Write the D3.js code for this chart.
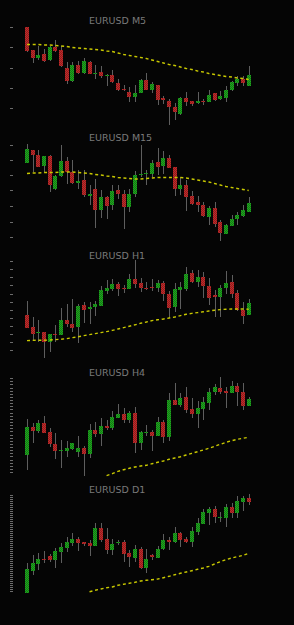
<!DOCTYPE html>
<html><head><meta charset="utf-8">
<script src="https://cdn.jsdelivr.net/npm/d3@7"></script>
<style>html,body{margin:0;padding:0;background:#050505;overflow:hidden}svg{display:block}</style>
</head><body>
<svg id="c" width="294" height="625"></svg>
<script>
const titles = ["EURUSD M5","EURUSD M15","EURUSD H1","EURUSD H4","EURUSD D1"];

const m5Open  = [1.08946,1.08900,1.08883,1.08891,1.08880,1.08906,1.08900,1.08865,1.08837,1.08870,1.08855,1.08875,1.08852,1.08856,1.08848,1.08849,1.08833,1.08822,1.08816,1.08805,1.08813,1.08839,1.08819,1.08829,1.08803,1.08797,1.08786,1.08771,1.08803,1.08797,1.08793,1.08798,1.08796,1.08813,1.08801,1.08803,1.08819,1.08834,1.08842,1.08828];
const m5High  = [1.08946,1.08900,1.08907,1.08901,1.08908,1.08919,1.08909,1.08875,1.08875,1.08877,1.08883,1.08877,1.08870,1.08867,1.08852,1.08859,1.08842,1.08830,1.08825,1.08830,1.08842,1.08855,1.08836,1.08829,1.08807,1.08801,1.08793,1.08806,1.08815,1.08797,1.08815,1.08802,1.08820,1.08813,1.08818,1.08828,1.08837,1.08847,1.08847,1.08867];
const m5Low   = [1.08896,1.08873,1.08880,1.08875,1.08877,1.08895,1.08866,1.08831,1.08836,1.08852,1.08852,1.08851,1.08841,1.08843,1.08827,1.08833,1.08818,1.08817,1.08795,1.08795,1.08813,1.08819,1.08813,1.08790,1.08792,1.08750,1.08759,1.08770,1.08788,1.08788,1.08792,1.08789,1.08795,1.08797,1.08800,1.08795,1.08818,1.08828,1.08828,1.08827];
const m5Close = [1.08897,1.08883,1.08890,1.08877,1.08905,1.08897,1.08867,1.08837,1.08869,1.08853,1.08877,1.08852,1.08855,1.08848,1.08850,1.08835,1.08820,1.08819,1.08805,1.08813,1.08840,1.08819,1.08831,1.08800,1.08799,1.08785,1.08775,1.08804,1.08795,1.08792,1.08798,1.08795,1.08811,1.08800,1.08807,1.08820,1.08836,1.08841,1.08833,1.08850];
const m5Ma    = [1.08911,1.08911,1.08911,1.08910,1.08910,1.08909,1.08908,1.08907,1.08905,1.08904,1.08903,1.08902,1.08901,1.08900,1.08898,1.08897,1.08894,1.08891,1.08889,1.08887,1.08885,1.08883,1.08880,1.08877,1.08874,1.08871,1.08869,1.08866,1.08863,1.08861,1.08858,1.08856,1.08853,1.08851,1.08849,1.08847,1.08846,1.08844,1.08843,1.08841];
const m5Ticks = [1.08945,1.08905,1.08865,1.08824,1.08783];
const m5Range = [1.08740,1.08960];

const m15Open  = [1.09173,1.09201,1.09191,1.09169,1.09188,1.09122,1.09148,1.09178,1.09157,1.09135,1.09140,1.09108,1.09123,1.09081,1.09107,1.09090,1.09119,1.09113,1.09085,1.09113,1.09150,1.09153,1.09152,1.09177,1.09169,1.09185,1.09167,1.09123,1.09129,1.09109,1.09096,1.09091,1.09067,1.09084,1.09056,1.09033,1.09048,1.09063,1.09068,1.09077];
const m15High  = [1.09213,1.09201,1.09200,1.09188,1.09191,1.09149,1.09210,1.09186,1.09180,1.09160,1.09160,1.09130,1.09142,1.09120,1.09109,1.09131,1.09130,1.09121,1.09123,1.09158,1.09210,1.09159,1.09180,1.09205,1.09198,1.09191,1.09167,1.09147,1.09140,1.09118,1.09108,1.09097,1.09088,1.09097,1.09060,1.09051,1.09070,1.09075,1.09090,1.09107];
const m15Low   = [1.09173,1.09157,1.09166,1.09157,1.09115,1.09121,1.09147,1.09133,1.09133,1.09123,1.09105,1.09090,1.09045,1.09065,1.09063,1.09081,1.09102,1.09043,1.09077,1.09105,1.09147,1.09130,1.09147,1.09150,1.09152,1.09163,1.09109,1.09110,1.09078,1.09090,1.09075,1.09067,1.09050,1.09047,1.09017,1.09032,1.09048,1.09050,1.09067,1.09077];
const m15Close = [1.09202,1.09191,1.09167,1.09188,1.09131,1.09148,1.09178,1.09157,1.09135,1.09138,1.09110,1.09113,1.09080,1.09107,1.09089,1.09118,1.09112,1.09086,1.09113,1.09150,1.09153,1.09154,1.09175,1.09167,1.09183,1.09164,1.09122,1.09129,1.09105,1.09093,1.09090,1.09068,1.09084,1.09053,1.09035,1.09050,1.09063,1.09070,1.09081,1.09094];
const m15Ma    = [1.09153,1.09154,1.09154,1.09155,1.09155,1.09155,1.09156,1.09156,1.09156,1.09155,1.09154,1.09153,1.09151,1.09150,1.09148,1.09147,1.09145,1.09144,1.09143,1.09142,1.09142,1.09143,1.09144,1.09145,1.09145,1.09145,1.09145,1.09145,1.09144,1.09142,1.09140,1.09138,1.09136,1.09133,1.09130,1.09127,1.09125,1.09123,1.09121,1.09119];
const m15Ticks = [1.09211,1.09181,1.09150,1.09119,1.09088,1.09057,1.09026];
const m15Range = [1.09010,1.09230];

const h1Open  = [1.08425,1.08364,1.08335,1.08339,1.08289,1.08330,1.08325,1.08400,1.08382,1.08364,1.08474,1.08454,1.08467,1.08472,1.08547,1.08555,1.08582,1.08562,1.08554,1.08604,1.08584,1.08562,1.08567,1.08562,1.08585,1.08530,1.08464,1.08550,1.08557,1.08635,1.08590,1.08615,1.08570,1.08525,1.08517,1.08559,1.08590,1.08534,1.08450,1.08424];
const h1High  = [1.08495,1.08417,1.08400,1.08339,1.08330,1.08375,1.08462,1.08480,1.08505,1.08479,1.08492,1.08492,1.08495,1.08570,1.08600,1.08605,1.08592,1.08575,1.08629,1.08700,1.08609,1.08592,1.08605,1.08600,1.08595,1.08545,1.08587,1.08589,1.08664,1.08650,1.08650,1.08642,1.08612,1.08550,1.08575,1.08645,1.08625,1.08550,1.08492,1.08504];
const h1Low   = [1.08361,1.08300,1.08292,1.08209,1.08242,1.08289,1.08324,1.08367,1.08342,1.08284,1.08384,1.08380,1.08422,1.08470,1.08529,1.08547,1.08522,1.08534,1.08553,1.08562,1.08542,1.08550,1.08547,1.08542,1.08495,1.08412,1.08442,1.08455,1.08545,1.08585,1.08567,1.08512,1.08475,1.08417,1.08417,1.08530,1.08509,1.08447,1.08380,1.08423];
const h1Close = [1.08362,1.08329,1.08340,1.08289,1.08330,1.08325,1.08400,1.08379,1.08362,1.08472,1.08452,1.08467,1.08480,1.08550,1.08560,1.08582,1.08557,1.08555,1.08604,1.08579,1.08559,1.08559,1.08560,1.08587,1.08530,1.08462,1.08554,1.08567,1.08630,1.08590,1.08615,1.08572,1.08509,1.08514,1.08562,1.08587,1.08530,1.08450,1.08422,1.08485];
const h1Ma    = [1.08297,1.08298,1.08299,1.08299,1.08300,1.08302,1.08304,1.08307,1.08312,1.08316,1.08322,1.08327,1.08332,1.08337,1.08342,1.08348,1.08355,1.08362,1.08369,1.08376,1.08384,1.08390,1.08397,1.08401,1.08405,1.08410,1.08415,1.08422,1.08429,1.08433,1.08437,1.08441,1.08445,1.08449,1.08452,1.08454,1.08455,1.08455,1.08455,1.08454];
const h1Ticks = [1.08695,1.08654,1.08614,1.08573,1.08532,1.08492,1.08451,1.08410,1.08370,1.08329,1.08289,1.08248];
const h1Range = [1.08175,1.08725];

const h4Open  = [1.07450,1.07733,1.07690,1.07773,1.07683,1.07560,1.07493,1.07493,1.07513,1.07480,1.07523,1.07457,1.07700,1.07660,1.07743,1.07717,1.07823,1.07857,1.07800,1.07867,1.07567,1.07673,1.07680,1.07640,1.07780,1.07627,1.08000,1.07950,1.08027,1.07907,1.07857,1.07910,1.07973,1.08077,1.08123,1.08090,1.08067,1.08140,1.08083,1.07943];
const h4High  = [1.07807,1.07767,1.07800,1.07840,1.07723,1.07667,1.07600,1.07590,1.07570,1.07640,1.07540,1.07757,1.07783,1.07817,1.07800,1.07893,1.07957,1.07923,1.07893,1.07933,1.07690,1.07750,1.07700,1.07833,1.07800,1.08067,1.08173,1.08073,1.08133,1.08023,1.07990,1.08033,1.08117,1.08160,1.08227,1.08127,1.08190,1.08173,1.08173,1.08033];
const h4Low   = [1.07300,1.07567,1.07673,1.07670,1.07533,1.07410,1.07317,1.07427,1.07500,1.07433,1.07240,1.07423,1.07633,1.07540,1.07700,1.07700,1.07820,1.07767,1.07767,1.07467,1.07500,1.07640,1.07493,1.07637,1.07567,1.07593,1.07947,1.07933,1.07867,1.07817,1.07723,1.07800,1.07900,1.08050,1.08060,1.07923,1.08067,1.07940,1.07900,1.07943];
const h4Close = [1.07733,1.07690,1.07773,1.07673,1.07560,1.07490,1.07500,1.07523,1.07567,1.07523,1.07457,1.07700,1.07660,1.07740,1.07717,1.07827,1.07857,1.07800,1.07867,1.07567,1.07677,1.07680,1.07640,1.07780,1.07627,1.08000,1.07950,1.08017,1.07897,1.07857,1.07917,1.07977,1.08080,1.08127,1.08083,1.08067,1.08140,1.08077,1.07943,1.08010];
const h4Ma    = [null,null,null,null,null,null,null,null,null,null,null,null,null,null,1.07243,1.07263,1.07287,1.07303,1.07317,1.07330,1.07340,1.07347,1.07363,1.07377,1.07390,1.07407,1.07420,1.07433,1.07450,1.07467,1.07483,1.07500,1.07517,1.07537,1.07557,1.07577,1.07593,1.07607,1.07617,1.07627];
const h4Ticks = [1.08217,1.08186,1.08155,1.08123,1.08092,1.08061,1.08030,1.07998,1.07967,1.07936,1.07905,1.07873,1.07842,1.07811,1.07780,1.07748,1.07717,1.07686,1.07655,1.07624,1.07592,1.07561,1.07530,1.07499,1.07467,1.07436,1.07405,1.07374,1.07343,1.07311,1.07280];
const h4Range = [1.07200,1.08300];

const d1Open  = [1.08146,1.08586,1.08720,1.08820,1.08880,1.08800,1.08966,1.09046,1.09146,1.09220,1.09166,1.09146,1.09080,1.09440,1.09220,1.09000,1.09146,1.09160,1.08934,1.08834,1.09020,1.08634,1.08900,1.08846,1.09014,1.09200,1.09154,1.09346,1.09214,1.09166,1.09366,1.09514,1.09746,1.09826,1.09634,1.09646,1.09866,1.09740,1.09960,1.10046];
const d1High  = [1.08734,1.08900,1.08946,1.08986,1.08920,1.09034,1.09134,1.09254,1.09346,1.09266,1.09166,1.09200,1.09546,1.09546,1.09434,1.09214,1.09200,1.09200,1.09000,1.09100,1.09066,1.09020,1.08920,1.09080,1.09320,1.09266,1.09466,1.09366,1.09266,1.09466,1.09634,1.09814,1.09866,1.09880,1.09754,1.09914,1.09946,1.10080,1.10080,1.10120];
const d1Low   = [1.08140,1.08500,1.08600,1.08746,1.08766,1.08646,1.08746,1.08966,1.09080,1.08980,1.09086,1.08880,1.09080,1.09166,1.08920,1.08900,1.09100,1.08766,1.08654,1.08766,1.08620,1.08546,1.08800,1.08846,1.09000,1.09000,1.09134,1.09066,1.09134,1.09066,1.09300,1.09514,1.09500,1.09534,1.09566,1.09466,1.09634,1.09634,1.09786,1.09894];
const d1Close = [1.08614,1.08734,1.08814,1.08806,1.08800,1.08980,1.09066,1.09160,1.09220,1.09146,1.09120,1.09080,1.09434,1.09194,1.09000,1.09114,1.09160,1.08920,1.08854,1.09014,1.08634,1.08820,1.08854,1.09026,1.09200,1.09160,1.09334,1.09200,1.09166,1.09386,1.09546,1.09766,1.09826,1.09660,1.09666,1.09866,1.09734,1.09974,1.10046,1.09954];
const d1Ma    = [null,null,null,null,null,null,null,null,null,null,null,1.08166,1.08194,1.08220,1.08246,1.08260,1.08294,1.08314,1.08334,1.08354,1.08380,1.08394,1.08406,1.08420,1.08446,1.08474,1.08506,1.08534,1.08560,1.08586,1.08614,1.08640,1.08674,1.08720,1.08766,1.08806,1.08840,1.08866,1.08894,1.08934];
const d1Ticks = [1.1010,1.1006,1.1002,1.0998,1.0994,1.0990,1.0986,1.0982,1.0978,1.0974,1.0970,1.0966,1.0962,1.0958,1.0954,1.0950,1.0946,1.0942,1.0938,1.0934,1.0930,1.0926,1.0922,1.0918,1.0914,1.0910,1.0906,1.0902,1.0898,1.0894,1.0890,1.0886,1.0882,1.0878,1.0874,1.0870,1.0866,1.0862,1.0858,1.0854,1.0850,1.0846,1.0842,1.0838,1.0834,1.0830,1.0826,1.0822,1.0818];
const d1Range = [1.08000,1.10200];

// ---- build panels ----
const series = [
  {o:m5Open,h:m5High,l:m5Low,c:m5Close,ma:m5Ma,ticks:m5Ticks,range:m5Range},
  {o:m15Open,h:m15High,l:m15Low,c:m15Close,ma:m15Ma,ticks:m15Ticks,range:m15Range},
  {o:h1Open,h:h1High,l:h1Low,c:h1Close,ma:h1Ma,ticks:h1Ticks,range:h1Range},
  {o:h4Open,h:h4High,l:h4Low,c:h4Close,ma:h4Ma,ticks:h4Ticks,range:h4Range},
  {o:d1Open,h:d1High,l:d1Low,c:d1Close,ma:d1Ma,ticks:d1Ticks,range:d1Range}
];
// pixel layout for each panel: [bottom, top] of price scale, title baseline
const layout = [
  {py:[130,20], ty:23.5},
  {py:[245,135], ty:141},
  {py:[365,255], ty:258.5},
  {py:[480,370], ty:375.8},
  {py:[600,490], ty:493}
];

const svg = d3.select("#c");
svg.append("rect").attr("width",294).attr("height",625).attr("fill","#050505");
const defs = svg.append("defs");
function pattern(id,a,b){
  const p = defs.append("pattern").attr("id",id).attr("width",2).attr("height",2).attr("patternUnits","userSpaceOnUse");
  p.append("rect").attr("width",2).attr("height",2).attr("fill",a);
  p.append("rect").attr("width",1).attr("height",1).attr("fill",b);
  p.append("rect").attr("x",1).attr("y",1).attr("width",1).attr("height",1).attr("fill",b);
}
pattern("pRed","#bf2a2a","#8f1d1d");
pattern("pGreen","#1fa31f","#137a13");

const N = 40;
const x = d3.scaleLinear().domain([0,N-1]).range([27,248.7]);

series.forEach((s,k)=>{
  const L = layout[k];
  const y = d3.scaleLinear().domain(s.range).range(L.py);
  const g = svg.append("g").attr("shape-rendering","crispEdges");

  // left tick ladder
  g.selectAll("rect.tk").data(s.ticks).join("rect").attr("class","tk")
    .attr("x",10).attr("width",3).attr("y",d=>Math.round(y(d))).attr("height",1).attr("fill","#6c6c6c");

  // title
  svg.append("text").attr("x",89).attr("y",L.ty).text(titles[k])
    .attr("font-family","DejaVu Sans, Verdana, sans-serif").attr("font-size","9.5px").attr("fill","#7a7a7a");

  const idx = d3.range(N);
  // wicks
  g.selectAll("rect.wk").data(idx).join("rect").attr("class","wk")
    .attr("x",i=>Math.round(x(i)))
    .attr("width",1)
    .attr("y",i=>Math.round(y(s.h[i])))
    .attr("height",i=>Math.max(1,Math.round(y(s.l[i]))-Math.round(y(s.h[i]))))
    .attr("fill","#5e5e5e");
  // bodies
  g.selectAll("rect.bd").data(idx).join("rect").attr("class","bd")
    .attr("x",i=>Math.round(x(i))-2)
    .attr("width",4)
    .attr("y",i=>Math.round(y(Math.max(s.o[i],s.c[i]))))
    .attr("height",i=>Math.max(1,Math.round(y(Math.min(s.o[i],s.c[i])))-Math.round(y(Math.max(s.o[i],s.c[i])))))
    .attr("fill",i=>s.c[i]>=s.o[i]?"url(#pGreen)":"url(#pRed)");

  // moving average (dashed)
  const line = d3.line().defined(d=>d!=null).x((d,i)=>x(i)).y(d=>y(d));
  svg.append("path").datum(s.ma).attr("d",line)
    .attr("fill","none").attr("stroke","#c8c800").attr("stroke-width",1.4)
    .attr("stroke-dasharray","3,2.7");
});
</script>
</body></html>
